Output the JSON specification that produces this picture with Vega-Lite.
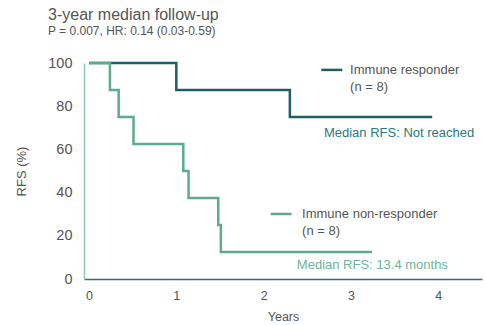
{
  "$schema": "https://vega.github.io/schema/vega-lite/v6.json",
  "width": 398,
  "height": 216,
  "autosize": "none",
  "padding": {"left": 84, "top": 63, "right": 3, "bottom": 46},
  "background": "white",
  "config": {
    "view": {"stroke": null},
    "font": "Liberation Sans"
  },
  "title": {
    "text": "3-year median follow-up",
    "subtitle": "P = 0.007, HR: 0.14 (0.03-0.59)",
    "anchor": "start",
    "frame": "group",
    "dx": -36,
    "offset": 18,
    "fontSize": 16,
    "fontWeight": "normal",
    "color": "#555555",
    "subtitleFontSize": 12,
    "subtitleColor": "#555555",
    "subtitlePadding": 3
  },
  "datasets": {
    "curves": [
      {"group": "Immune responder", "years": 0, "rfs": 100},
      {"group": "Immune responder", "years": 1.0, "rfs": 87.5},
      {"group": "Immune responder", "years": 2.3, "rfs": 75},
      {"group": "Immune responder", "years": 3.93, "rfs": 75},
      {"group": "Immune non-responder", "years": 0, "rfs": 100},
      {"group": "Immune non-responder", "years": 0.24, "rfs": 87.5},
      {"group": "Immune non-responder", "years": 0.34, "rfs": 75},
      {"group": "Immune non-responder", "years": 0.51, "rfs": 62.5},
      {"group": "Immune non-responder", "years": 1.08, "rfs": 50},
      {"group": "Immune non-responder", "years": 1.14, "rfs": 37.5},
      {"group": "Immune non-responder", "years": 1.48, "rfs": 25},
      {"group": "Immune non-responder", "years": 1.51, "rfs": 12.5},
      {"group": "Immune non-responder", "years": 3.24, "rfs": 12.5}
    ],
    "keys": [
      {"group": "Immune responder", "x1": 2.66, "x2": 2.9, "y": 96.8},
      {"group": "Immune non-responder", "x1": 2.08, "x2": 2.32, "y": 30.1}
    ],
    "labels": [
      {"label": "Immune responder", "x": 2.99, "y": 96.8, "kind": "legend"},
      {"label": "(n = 8)", "x": 2.99, "y": 89.0, "kind": "legend"},
      {"label": "Immune non-responder", "x": 2.44, "y": 30.1, "kind": "legend"},
      {"label": "(n = 8)", "x": 2.44, "y": 22.2, "kind": "legend"},
      {"label": "Median RFS: Not reached", "x": 2.69, "y": 67.6, "kind": "resp"},
      {"label": "Median RFS: 13.4 months", "x": 2.38, "y": 6.5, "kind": "nonresp"}
    ]
  },
  "layer": [
    {
      "data": {"name": "curves"},
      "mark": {"type": "line", "interpolate": "step-after", "strokeWidth": 2.5},
      "encoding": {
        "x": {
          "field": "years", "type": "quantitative",
          "scale": {"domain": [-0.057, 4.5], "nice": false, "zero": false},
          "axis": {
            "title": "Years", "values": [0, 1, 2, 3, 4], "format": "d", "ticks": false,
            "grid": false, "domainColor": "#2d6f73", "domainWidth": 1.5,
            "labelColor": "#555555", "labelFontSize": 12.5, "labelPadding": 10,
            "titleColor": "#555555", "titleFontSize": 12.5, "titleFontWeight": "normal",
            "titlePadding": 9
          }
        },
        "y": {
          "field": "rfs", "type": "quantitative",
          "scale": {"domain": [0, 100], "nice": false},
          "axis": {
            "title": "RFS (%)", "values": [0, 20, 40, 60, 80, 100], "ticks": false,
            "grid": false, "domainColor": "#8fc9b3", "domainWidth": 1.5,
            "labelColor": "#555555", "labelFontSize": 14.5, "labelPadding": 12,
            "titleColor": "#555555", "titleFontSize": 13, "titleFontWeight": "normal",
            "titlePadding": 19
          }
        },
        "color": {
          "field": "group", "type": "nominal",
          "scale": {"domain": ["Immune responder", "Immune non-responder"], "range": ["#1d5f64", "#5dab8b"]},
          "legend": null
        }
      }
    },
    {
      "data": {"name": "keys"},
      "mark": {"type": "rule", "strokeWidth": 2.5},
      "encoding": {
        "x": {"field": "x1", "type": "quantitative"},
        "x2": {"field": "x2"},
        "y": {"field": "y", "type": "quantitative"},
        "color": {
          "field": "group", "type": "nominal",
          "scale": {"domain": ["Immune responder", "Immune non-responder"], "range": ["#1d5f64", "#5dab8b"]},
          "legend": null
        }
      }
    },
    {
      "data": {"name": "labels"},
      "mark": {"type": "text", "align": "left", "baseline": "middle", "fontSize": 13},
      "encoding": {
        "x": {"field": "x", "type": "quantitative"},
        "y": {"field": "y", "type": "quantitative"},
        "text": {"field": "label"},
        "color": {
          "field": "kind", "type": "nominal",
          "scale": {"domain": ["legend", "resp", "nonresp"], "range": ["#555555", "#2a7a7e", "#6cb59a"]},
          "legend": null
        }
      }
    }
  ],
  "resolve": {"scale": {"color": "independent"}}
}
